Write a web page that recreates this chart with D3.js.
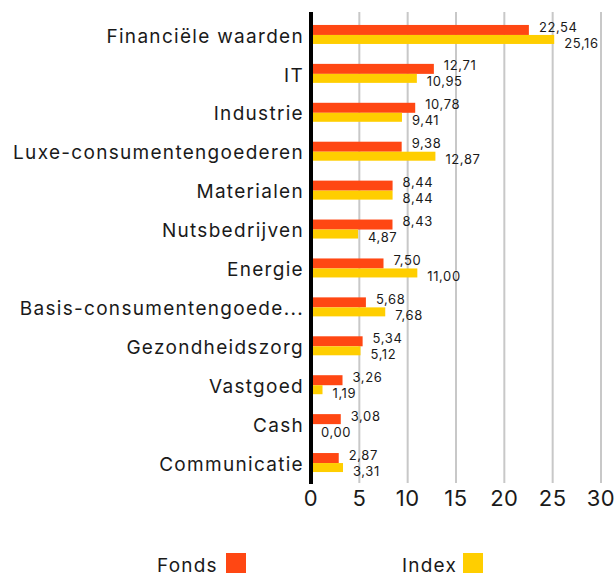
<html lang="nl">
<head>
<meta charset="utf-8">
<script src="https://d3js.org/d3.v7.min.js"></script>
<style>
  body { margin: 0; background: #fff; }
  text { font-family: Inter, "Open Sans", sans-serif; fill: #1a1a1a; }
</style>
</head>
<body>
<script>
// sector data
var categories = ["Financiële waarden", "IT", "Industrie", "Luxe-consumentengoederen", "Materialen",
  "Nutsbedrijven", "Energie", "Basis-consumentengoede...", "Gezondheidszorg", "Vastgoed", "Cash", "Communicatie"];
var fonds = [22.54, 12.71, 10.78, 9.38, 8.44, 8.43, 7.50, 5.68, 5.34, 3.26, 3.08, 2.87];
var index = [25.16, 10.95, 9.41, 12.87, 8.44, 4.87, 11.00, 7.68, 5.12, 1.19, 0.00, 3.31];
var ticks = [0, 5, 10, 15, 20, 25, 30];
var seriesNames = ["Fonds", "Index"];
var colors = ["#ff4713", "#ffce00"];

var w = 614, h = 577;
var svg = d3.select("body").append("svg").attr("width", w).attr("height", h);

var x = d3.scaleLinear().domain([0, 30]).range([311, 601]);
var y = d3.scaleBand().domain(categories).range([15.5, 482.5]);

var fmt = function(v){ return v.toFixed(2).replace(".", ","); };

// grid lines
svg.selectAll("line.grid").data(ticks.slice(1)).enter().append("line")
  .attr("class", "grid")
  .attr("x1", function(d){ return x(d); }).attr("x2", function(d){ return x(d); })
  .attr("y1", 12).attr("y2", 483)
  .attr("stroke", "#c8c8c8").attr("stroke-width", 2);

// bars
var rows = categories.map(function(c, i){ return {cat: c, f: fonds[i], ix: index[i]}; });
var g = svg.selectAll("g.row").data(rows).enter().append("g").attr("class", "row")
  .attr("transform", function(d){ return "translate(0," + (y(d.cat) + y.bandwidth() / 2) + ")"; });

g.append("rect").attr("x", x(0)).attr("y", -10).attr("height", 10)
  .attr("width", function(d){ return x(d.f) - x(0); }).attr("fill", colors[0]);
g.append("rect").attr("x", x(0)).attr("y", 0).attr("height", 9)
  .attr("width", function(d){ return x(d.ix) - x(0); }).attr("fill", colors[1]);

g.append("text").attr("x", function(d){ return x(d.f) + 10; }).attr("y", -8)
  .attr("dy", "0.35em").attr("font-size", 13).attr("letter-spacing", 0.6)
  .text(function(d){ return fmt(d.f); });
g.append("text").attr("x", function(d){ return x(d.ix) + 10; }).attr("y", 8)
  .attr("dy", "0.35em").attr("font-size", 13).attr("letter-spacing", 0.6)
  .text(function(d){ return fmt(d.ix); });

// category labels
g.append("text").attr("x", 304).attr("y", 1).attr("dy", "0.35em")
  .attr("text-anchor", "end").attr("font-size", 19).attr("letter-spacing", 1.3)
  .text(function(d){ return d.cat; });

// y axis line
svg.append("line").attr("x1", x(0)).attr("x2", x(0)).attr("y1", 12).attr("y2", 484)
  .attr("stroke", "#000").attr("stroke-width", 4);

// x axis tick labels
svg.selectAll("text.tick").data(ticks).enter().append("text")
  .attr("class", "tick")
  .attr("x", function(d){ return x(d); }).attr("y", 498).attr("dy", "0.35em")
  .attr("text-anchor", "middle").attr("font-size", 22).attr("letter-spacing", 0.5)
  .text(function(d){ return d; });

// legend
var legendX = [157, 402];
var lg = svg.selectAll("g.legend").data(seriesNames).enter().append("g").attr("class", "legend");
lg.append("text").attr("x", function(d, i){ return legendX[i]; }).attr("y", 565).attr("dy", "0.35em")
  .attr("font-size", 19).attr("letter-spacing", 1.2).text(function(d){ return d; });
lg.append("rect").attr("x", function(d, i){ return [226, 463][i]; }).attr("y", 553)
  .attr("width", 20).attr("height", 20).attr("fill", function(d, i){ return colors[i]; });
</script>
</body>
</html>
